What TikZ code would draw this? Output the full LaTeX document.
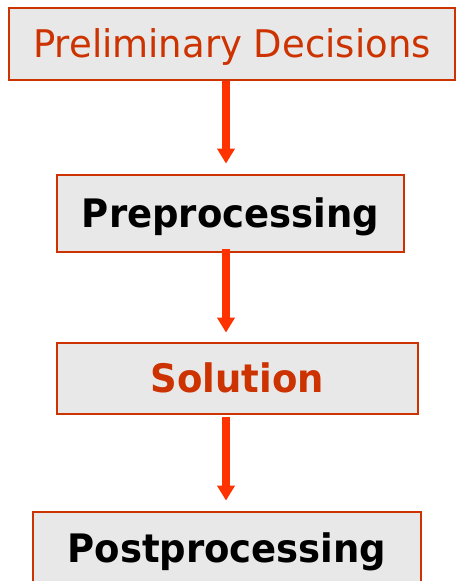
\documentclass[tikz,border=0pt]{standalone}
\usepackage{fontspec}
\setmainfont{DejaVu Sans}
\usetikzlibrary{arrows.meta}
\definecolor{boxborder}{RGB}{204,51,0}
\definecolor{boxfill}{RGB}{232,232,232}
\definecolor{arrowred}{RGB}{255,51,0}
\begin{document}
\begin{tikzpicture}[x=1pt,y=-1pt]
\tikzset{
  stagebox/.style={draw=boxborder, fill=boxfill, line width=2.8pt, inner sep=0pt, anchor=center},
  flowarrow/.style={draw=arrowred, line width=8pt, -{Triangle[length=15pt,width=17pt]}},
}
\useasboundingbox (0,0) rectangle (456,581);
\clip (0,0) rectangle (456,581);
\node[stagebox, minimum width=446pt, minimum height=72pt, text=boxborder,
      font=\fontsize{37}{40}\selectfont, text height=27pt, text depth=0pt]
      (pre) at (232,44) {\scalebox{1}[1.03]{Preliminary Decisions}};
\node[stagebox, minimum width=347pt, minimum height=77pt, text=black,
      font=\fontsize{37}{40}\selectfont\bfseries, text height=28pt, text depth=0pt]
      (prep) at (230.5,213.5) {\scalebox{1}[1.06]{Preprocessing}};
\node[stagebox, minimum width=361pt, minimum height=71pt, text=boxborder,
      font=\fontsize{37}{40}\selectfont\bfseries, text height=28pt, text depth=0pt]
      (sol) at (237.5,378.5) {\scalebox{1}[1.06]{Solution}};
\node[stagebox, minimum width=388pt, minimum height=73pt, text=black,
      font=\fontsize{37}{40}\selectfont\bfseries, text height=28pt, text depth=0pt]
      (post) at (227,548.5) {\scalebox{1}[1.06]{Postprocessing}};
\coordinate (ax) at (226,0);
\draw[flowarrow] (pre.south -| ax) -- ([yshift=10pt]prep.north -| ax);
\draw[flowarrow] ([yshift=4pt]prep.south -| ax) -- ([yshift=9pt]sol.north -| ax);
\draw[flowarrow] ([yshift=-2pt]sol.south -| ax) -- ([yshift=10pt]post.north -| ax);
\end{tikzpicture}
\end{document}
